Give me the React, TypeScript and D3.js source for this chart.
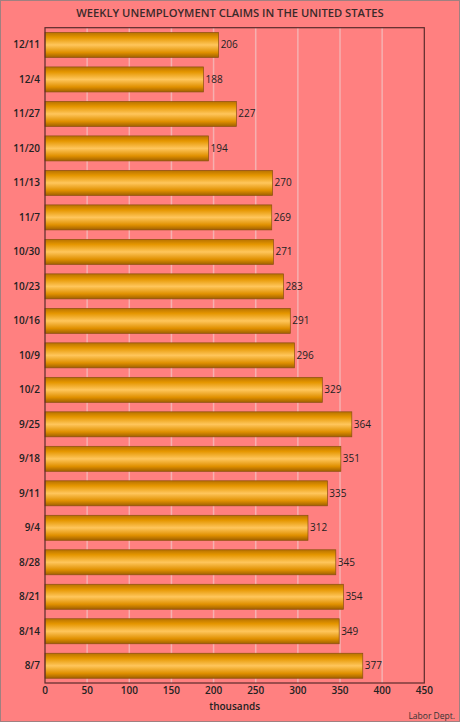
import React from "react";
import * as d3 from "d3";

const categories = ["12/11","12/4","11/27","11/20","11/13","11/7","10/30","10/23","10/16","10/9","10/2","9/25","9/18","9/11","9/4","8/28","8/21","8/14","8/7"];
const values = [206,188,227,194,270,269,271,283,291,296,329,364,351,335,312,345,354,349,377];
const xTicks = [0,50,100,150,200,250,300,350,400,450];
const title = "WEEKLY UNEMPLOYMENT CLAIMS IN THE UNITED STATES";
const xLabel = "thousands";
const source = "Labor Dept.";

const W = 460, H = 722;
const left = 45, right = 424.3, top = 27.7, bottom = 683;

export default function App() {
  const x = d3.scaleLinear().domain([0, 450]).range([left, right]);
  const y = d3.scaleBand<string>().domain(categories).range([top, bottom]).paddingInner(0.275).paddingOuter(0.1375);
  const font = "'Open Sans', 'Noto Sans', sans-serif";
  return (
    <svg width={W} height={H} style={{ position: "absolute", left: 0, top: 0 }} fontFamily={font}>
      <defs>
        <linearGradient id="barg" x1="0" y1="0" x2="0" y2="1">
          <stop offset="0" stopColor="#b87200" />
          <stop offset="0.2" stopColor="#e59600" />
          <stop offset="0.5" stopColor="#ffc65c" />
          <stop offset="0.8" stopColor="#e09000" />
          <stop offset="1" stopColor="#a06000" />
        </linearGradient>
      </defs>
      <rect x={0.5} y={0.5} width={W - 1} height={H - 1} fill="#ff8080" stroke="#a08080" />
      <text x={W / 2} y={16.5} textAnchor="middle" fontSize={11.2} fontWeight={600} fill="#3a2a2a">{title}</text>
      {xTicks.slice(1, -1).map(t => (
        <line key={t} x1={x(t)} x2={x(t)} y1={top} y2={bottom} stroke="#f5b0b0" strokeWidth={1.5} />
      ))}
      {categories.map((c, i) => (
        <g key={c}>
          <rect x={x(0)} y={y(c)!} width={x(values[i]) - x(0)} height={y.bandwidth()} fill="url(#barg)" stroke="#8a5010" strokeWidth={0.7} />
          <text x={x(values[i]) + 2} y={y(c)! + y.bandwidth() / 2} dy="0.35em" fontSize={10} fill="#222">{values[i]}</text>
          <text x={40} y={y(c)! + y.bandwidth() / 2} dy="0.35em" textAnchor="end" fontSize={10} fontWeight={600} fill="#222">{c}</text>
        </g>
      ))}
      <rect x={left} y={top} width={right - left} height={bottom - top} fill="none" stroke="#5a2a2a" strokeWidth={1.2} />
      {xTicks.map(t => (
        <text key={t} x={x(t)} y={694} textAnchor="middle" fontSize={10} fontWeight={600} fill="#222">{t}</text>
      ))}
      <text x={(left + right) / 2} y={710} textAnchor="middle" fontSize={10} fontWeight={600} fill="#222">{xLabel}</text>
      <text x={455} y={719} textAnchor="end" fontSize={8.5} fill="#333">{source}</text>
    </svg>
  );
}
